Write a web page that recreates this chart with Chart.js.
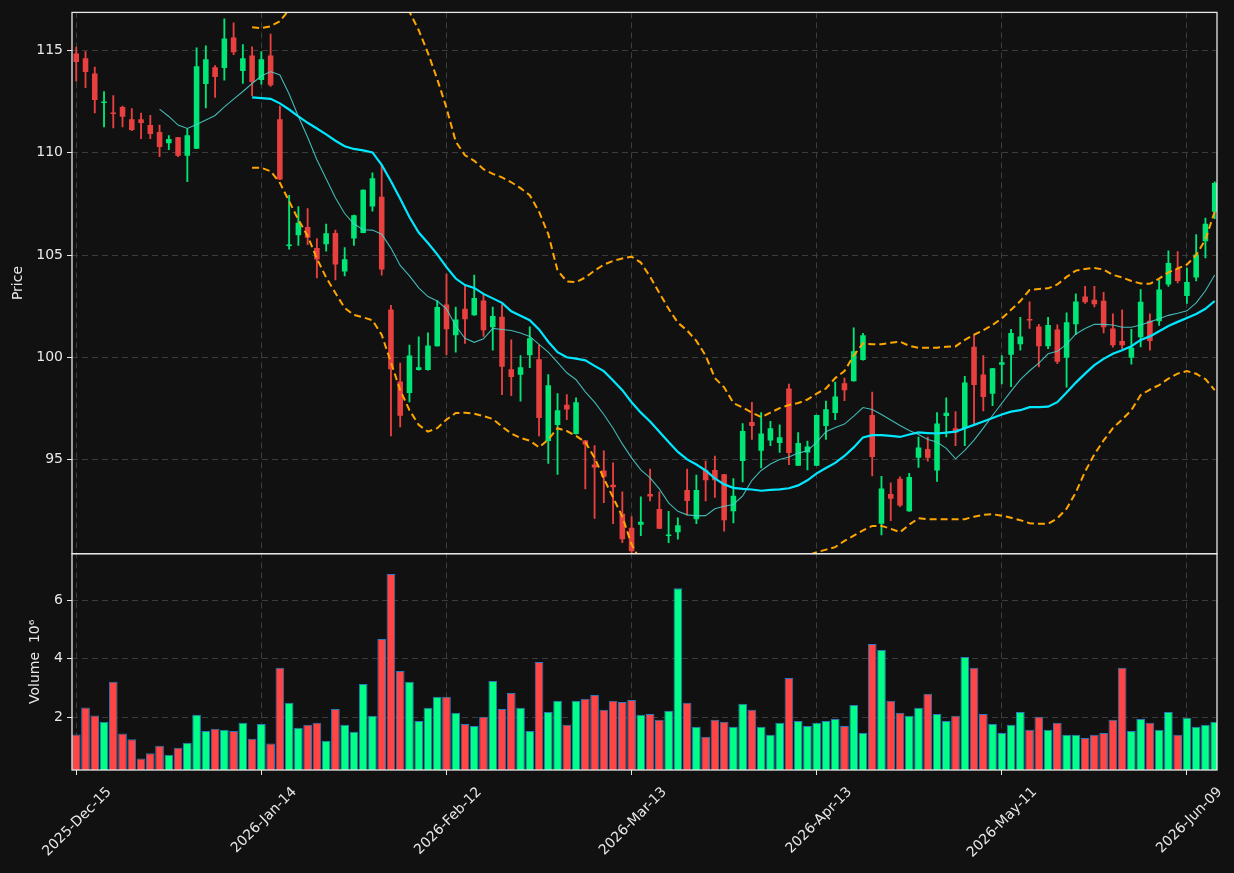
<!DOCTYPE html>
<html>
<head>
    <meta charset="utf-8">
    <title>Price and Volume</title>
    <script src="https://cdn.jsdelivr.net/npm/chart.js"></script>
    <style>
        html, body { margin: 0; padding: 0; background: #111111; }
        canvas { display: block; }
    </style>
</head>
<body>
    <canvas id="myChart" width="1234" height="873"></canvas>

    <script>
        // Tick labels on the x axis (trading-day index -> date)
        var tickIdx = [0, 20, 40, 60, 80, 100, 120];
        var tickLabels = ['2025-Dec-15', '2026-Jan-14', '2026-Feb-12', '2026-Mar-13', '2026-Apr-13', '2026-May-11', '2026-Jun-09'];
        var priceTicks = [95, 100, 105, 110, 115];
        var volumeTicks = [2, 4, 6];

        // OHLC, one entry per trading day
        var opens = [
            114.86, 114.63, 113.88, 112.44, 111.93, 112.24, 111.64, 111.64, 111.36, 111.02,
            110.47, 110.76, 109.86, 110.20, 113.37, 114.19, 114.15, 115.64, 114.00, 114.76,
            113.56, 114.76, 111.64, 105.44, 105.97, 106.37, 105.34, 105.53, 106.08, 104.20,
            105.81, 106.08, 107.37, 107.85, 102.34, 98.81, 98.25, 99.37, 99.37, 100.54,
            102.58, 101.08, 102.37, 102.05, 102.78, 101.47, 101.98, 99.41, 99.14, 100.10,
            99.90, 95.90, 96.69, 97.68, 96.24, 95.93, 94.75, 94.46, 93.76, 92.34,
            91.66, 91.81, 93.31, 92.58, 91.25, 91.44, 93.51, 92.07, 94.49, 94.49,
            94.27, 92.46, 94.92, 96.83, 95.42, 95.93, 95.81, 98.47, 94.69, 95.34,
            94.69, 96.64, 97.27, 98.73, 98.83, 99.86, 97.17, 91.86, 93.31, 94.05,
            92.46, 95.08, 95.51, 94.46, 97.12, 96.53, 96.53, 100.51, 99.15, 98.22,
            99.63, 100.12, 100.64, 101.85, 101.51, 100.54, 101.36, 99.97, 101.61, 102.97,
            102.81, 102.76, 101.41, 100.80, 99.97, 100.98, 101.78, 101.76, 103.56, 104.32,
            103.00, 103.90, 105.68, 107.12
        ];
        var highs = [
            115.17, 114.95, 114.19, 113.00, 112.80, 112.29, 112.17, 111.95, 111.83, 111.36,
            110.85, 110.76, 111.17, 115.14, 115.24, 114.27, 116.56, 116.36, 115.29, 115.19,
            114.95, 115.81, 112.29, 107.92, 107.37, 107.27, 105.81, 106.51, 106.22, 105.37,
            106.95, 108.19, 109.02, 109.41, 102.54, 99.71, 100.59, 101.00, 101.19, 102.76,
            104.07, 102.46, 103.47, 104.02, 103.10, 102.46, 102.58, 100.85, 100.08, 101.49,
            100.59, 99.15, 98.22, 98.17, 98.02, 95.93, 95.68, 95.42, 94.83, 93.42,
            92.20, 93.17, 94.53, 93.41, 92.46, 92.15, 94.53, 94.24, 94.92, 95.17,
            94.27, 94.07, 96.76, 97.80, 97.29, 96.86, 96.69, 98.69, 96.32, 95.90,
            97.17, 97.85, 98.78, 98.98, 101.44, 101.17, 98.29, 94.17, 93.86, 94.15,
            94.32, 96.10, 96.10, 97.29, 98.02, 97.34, 99.07, 101.10, 100.08, 99.46,
            100.08, 101.36, 101.95, 102.71, 101.61, 101.95, 101.58, 102.17, 103.10, 103.47,
            103.47, 103.17, 102.12, 102.32, 101.36, 103.31, 102.12, 103.78, 105.20, 105.17,
            104.36, 106.00, 106.81, 108.58
        ];
        var lows = [
            113.51, 113.19, 111.95, 111.27, 111.22, 111.27, 111.08, 110.69, 110.69, 109.81,
            110.15, 109.81, 108.59, 110.20, 112.20, 112.71, 113.56, 114.80, 113.39, 112.80,
            113.36, 113.25, 108.69, 105.29, 105.47, 105.51, 103.88, 105.19, 103.78, 103.98,
            105.47, 106.08, 107.14, 104.02, 96.15, 96.59, 97.81, 99.37, 99.37, 100.54,
            100.12, 100.25, 100.68, 102.05, 101.02, 100.34, 98.17, 98.12, 97.85, 99.49,
            96.15, 94.80, 94.27, 96.95, 96.24, 93.56, 92.12, 92.88, 91.86, 90.93,
            90.42, 91.27, 92.97, 91.61, 90.93, 91.10, 92.29, 91.86, 92.97, 93.14,
            91.49, 91.90, 93.90, 95.98, 94.58, 95.68, 95.34, 94.75, 94.69, 94.49,
            94.69, 95.98, 96.95, 97.88, 98.83, 99.86, 94.19, 91.31, 92.00, 92.69,
            92.46, 94.61, 94.92, 93.92, 96.10, 95.68, 95.68, 96.66, 97.37, 97.63,
            98.69, 98.56, 100.34, 101.41, 99.53, 100.42, 99.69, 98.54, 101.10, 102.63,
            102.46, 101.19, 100.49, 100.42, 99.66, 100.51, 100.34, 101.56, 103.47, 103.64,
            102.63, 103.73, 104.86, 106.78
        ];
        var closes = [
            114.44, 113.95, 112.59, 112.48, 111.90, 111.76, 111.12, 111.46, 110.92, 110.29,
            110.68, 109.86, 110.86, 114.24, 114.58, 113.71, 115.59, 114.92, 114.63, 113.47,
            114.58, 113.31, 108.69, 105.46, 106.58, 105.85, 104.78, 106.07, 104.54, 104.80,
            106.95, 108.19, 108.76, 104.29, 99.41, 97.14, 100.08, 99.51, 100.58, 102.46,
            101.37, 101.85, 101.86, 102.90, 101.32, 102.02, 99.53, 99.03, 99.51, 100.93,
            97.03, 98.63, 97.41, 97.44, 97.80, 95.73, 94.61, 94.15, 93.64, 91.10,
            90.51, 91.95, 93.19, 91.61, 91.29, 91.78, 92.97, 93.51, 93.98, 93.98,
            92.02, 93.22, 96.39, 96.64, 96.27, 96.53, 96.08, 95.31, 95.80, 95.63,
            97.17, 97.46, 98.08, 98.39, 100.29, 101.07, 95.12, 93.58, 93.08, 92.75,
            94.14, 95.59, 95.08, 96.76, 97.29, 96.32, 98.76, 98.64, 98.05, 99.46,
            99.75, 101.19, 101.02, 101.80, 100.54, 101.58, 99.78, 101.71, 102.73, 102.69,
            102.59, 101.47, 100.59, 100.59, 100.46, 102.71, 100.80, 103.31, 104.61, 103.73,
            103.68, 105.03, 106.53, 108.53
        ];

        // Volume in millions
        var volumes = [
            1.41, 2.33, 2.06, 1.84, 3.21, 1.44, 1.24, 0.58, 0.76, 1.02,
            0.71, 0.95, 1.12, 2.08, 1.53, 1.60, 1.57, 1.53, 1.81, 1.26,
            1.77, 1.10, 3.69, 2.49, 1.64, 1.74, 1.81, 1.19, 2.28, 1.74,
            1.50, 3.14, 2.05, 4.68, 6.90, 3.58, 3.21, 1.87, 2.32, 2.70,
            2.70, 2.15, 1.77, 1.70, 2.01, 3.24, 2.28, 2.83, 2.32, 1.53,
            3.89, 2.18, 2.56, 1.74, 2.56, 2.63, 2.76, 2.25, 2.56, 2.52,
            2.59, 2.08, 2.11, 1.91, 2.22, 6.42, 2.49, 1.67, 1.33, 1.91,
            1.84, 1.67, 2.46, 2.25, 1.67, 1.40, 1.81, 3.34, 1.87, 1.70,
            1.81, 1.87, 1.94, 1.70, 2.42, 1.46, 4.51, 4.30, 2.56, 2.15,
            2.05, 2.32, 2.80, 2.11, 1.87, 2.05, 4.06, 3.69, 2.11, 1.77,
            1.46, 1.74, 2.18, 1.57, 2.01, 1.57, 1.81, 1.40, 1.40, 1.29,
            1.40, 1.46, 1.91, 3.69, 1.53, 1.94, 1.81, 1.57, 2.18, 1.40,
            1.98, 1.67, 1.74, 1.84
        ];

        // Moving averages and Bollinger bands
        var ma10 = [
            null, null, null, null, null, null, null, null, null, 112.14,
            111.78, 111.36, 111.19, 111.39, 111.61, 111.83, 112.25, 112.63, 113.00, 113.39,
            113.76, 113.98, 113.81, 112.88, 111.78, 110.76, 109.66, 108.73, 107.80, 107.03,
            106.53, 106.24, 106.22, 106.02, 105.34, 104.49, 103.98, 103.39, 102.97, 102.75,
            102.37, 101.53, 100.93, 100.73, 100.90, 101.41, 101.36, 101.31, 101.19, 101.02,
            100.63, 100.25, 99.75, 99.24, 98.90, 98.31, 97.80, 97.20, 96.53, 95.76,
            95.08, 94.49, 94.10, 93.56, 92.88, 92.46, 92.29, 92.24, 92.25, 92.59,
            92.71, 92.80, 93.22, 93.98, 94.46, 94.78, 95.00, 95.12, 95.31, 95.42,
            95.85, 96.36, 96.56, 96.73, 97.12, 97.54, 97.44, 97.20, 96.93, 96.66,
            96.42, 96.22, 95.98, 95.85, 95.54, 95.03, 95.44, 95.95, 96.53, 97.15,
            97.75, 98.34, 98.90, 99.34, 99.71, 100.17, 100.29, 100.64, 101.14, 101.41,
            101.61, 101.61, 101.58, 101.47, 101.47, 101.58, 101.73, 101.88, 102.05, 102.15,
            102.27, 102.66, 103.25, 104.02
        ];
        var ma20 = [
            null, null, null, null, null, null, null, null, null, null,
            null, null, null, null, null, null, null, null, null, 112.71,
            112.68, 112.64, 112.42, 112.12, 111.78, 111.47, 111.19, 110.90, 110.59, 110.32,
            110.19, 110.12, 110.02, 109.41, 108.61, 107.75, 106.86, 106.10, 105.59, 105.03,
            104.41, 103.85, 103.53, 103.39, 103.10, 102.88, 102.66, 102.25, 102.03, 101.81,
            101.36, 100.76, 100.25, 100.00, 99.93, 99.85, 99.58, 99.32, 98.86, 98.39,
            97.80, 97.29, 96.86, 96.36, 95.85, 95.37, 95.00, 94.75, 94.46, 94.07,
            93.78, 93.61, 93.56, 93.53, 93.47, 93.51, 93.54, 93.59, 93.73, 93.98,
            94.32, 94.58, 94.83, 95.17, 95.59, 96.08, 96.19, 96.19, 96.15, 96.10,
            96.22, 96.32, 96.29, 96.27, 96.31, 96.36, 96.53, 96.69, 96.86, 97.03,
            97.20, 97.34, 97.41, 97.56, 97.56, 97.58, 97.80, 98.27, 98.76, 99.20,
            99.61, 99.92, 100.17, 100.34, 100.54, 100.85, 101.02, 101.27, 101.53, 101.73,
            101.92, 102.12, 102.37, 102.75
        ];
        var bbUpper = [
            null, null, null, null, null, null, null, null, null, null,
            null, null, null, null, null, null, null, null, null, 116.14,
            116.10, 116.19, 116.44, 117.00, 117.70, 118.30, 118.80, 119.20, 119.50, 119.70,
            119.80, 119.80, 119.70, 119.50, 119.10, 118.20, 116.90, 116.00, 114.88, 113.61,
            112.20, 110.55, 109.88, 109.61, 109.20, 108.97, 108.80, 108.56, 108.27, 107.93,
            107.12, 106.02, 104.24, 103.71, 103.68, 103.90, 104.24, 104.53, 104.71, 104.83,
            104.92, 104.63, 103.94, 103.14, 102.37, 101.69, 101.31, 100.80, 100.08, 98.98,
            98.53, 97.76, 97.54, 97.29, 97.07, 97.29, 97.51, 97.66, 97.76, 97.93,
            98.22, 98.47, 98.98, 99.32, 100.08, 100.68, 100.63, 100.64, 100.71, 100.76,
            100.56, 100.46, 100.46, 100.47, 100.51, 100.53, 100.85, 101.10, 101.32, 101.58,
            101.90, 102.32, 102.75, 103.29, 103.34, 103.37, 103.56, 103.93, 104.24, 104.32,
            104.37, 104.29, 104.03, 103.90, 103.73, 103.61, 103.59, 103.85, 104.15, 104.34,
            104.53, 105.00, 105.76, 107.12
        ];
        var bbLower = [
            null, null, null, null, null, null, null, null, null, null,
            null, null, null, null, null, null, null, null, null, 109.27,
            109.27, 109.10, 108.53, 107.63, 106.73, 105.93, 104.83, 103.90, 103.14, 102.41,
            102.07, 101.95, 101.81, 101.10, 99.75, 98.39, 97.41, 96.69, 96.36, 96.53,
            96.95, 97.27, 97.29, 97.24, 97.12, 96.98, 96.61, 96.27, 96.05, 95.92,
            95.59, 95.98, 96.53, 96.39, 96.15, 95.85, 95.08, 94.07, 93.14, 92.20,
            90.85, 90.00, 89.50, 89.00, 88.60, 88.30, 88.10, 88.00, 87.90, 87.90,
            88.00, 88.20, 88.50, 88.80, 89.10, 89.40, 89.70, 89.90, 90.10, 90.30,
            90.46, 90.59, 90.71, 91.02, 91.27, 91.53, 91.75, 91.75, 91.61, 91.44,
            91.81, 92.12, 92.07, 92.07, 92.07, 92.07, 92.08, 92.20, 92.29, 92.32,
            92.25, 92.15, 92.03, 91.88, 91.85, 91.85, 92.12, 92.59, 93.39, 94.41,
            95.25, 95.93, 96.53, 96.95, 97.41, 98.15, 98.42, 98.64, 98.95, 99.20,
            99.32, 99.19, 98.93, 98.39
        ];

        var idx = opens.map(function (_, i) { return i; });
        function isUp(i) { return closes[i] >= opens[i]; }

        var textColor = '#e8e8e8';
        var gridColor = '#3c3c3c';
        var frameColor = '#e8e8e8';
        var font = { family: 'DejaVu Sans', size: 14 };

        function lineData(arr) {
            return arr.map(function (v, i) { return { x: i, y: v }; });
        }

        // background and panel frames
        var panelPlugin = {
            id: 'panels',
            beforeDraw: function (chart) {
                var ctx = chart.ctx;
                ctx.save();
                ctx.fillStyle = '#111111';
                ctx.fillRect(0, 0, chart.width, chart.height);
                ctx.restore();
            },
            afterDatasetsDraw: function (chart) {
                var ctx = chart.ctx, x = chart.scales.x, y = chart.scales.y, yv = chart.scales.yv;
                ctx.save();
                ctx.strokeStyle = frameColor;
                ctx.lineWidth = 1.3;
                ctx.strokeRect(x.left, y.top, x.right - x.left, y.bottom - y.top);
                ctx.strokeRect(x.left, yv.top, x.right - x.left, yv.bottom - yv.top);
                ctx.restore();
            }
        };

        var ctx = document.getElementById('myChart').getContext('2d');
        var myChart = new Chart(ctx, {
            type: 'bar',
            data: {
                datasets: [
                    {
                        type: 'line', label: 'BB upper', data: lineData(bbUpper), yAxisID: 'y',
                        borderColor: '#ffa500', borderWidth: 2, borderDash: [7, 4],
                        pointRadius: 0, order: 0
                    },
                    {
                        type: 'line', label: 'BB lower', data: lineData(bbLower), yAxisID: 'y',
                        borderColor: '#ffa500', borderWidth: 2, borderDash: [7, 4],
                        pointRadius: 0, order: 0
                    },
                    {
                        type: 'line', label: 'MA10', data: lineData(ma10), yAxisID: 'y',
                        borderColor: 'rgba(72, 214, 210, 0.85)', borderWidth: 1.1,
                        pointRadius: 0, order: 1
                    },
                    {
                        type: 'line', label: 'MA20', data: lineData(ma20), yAxisID: 'y',
                        borderColor: '#00e8ff', borderWidth: 2.2,
                        pointRadius: 0, order: 1
                    },
                    {
                        label: 'Body', yAxisID: 'y', grouped: false, order: 2,
                        data: idx.map(function (i) { return { x: i, y: [opens[i], closes[i]] }; }),
                        backgroundColor: idx.map(function (i) { return isUp(i) ? '#00e676' : '#e8403f'; }),
                        barPercentage: 0.6, categoryPercentage: 1, minBarLength: 1.5
                    },
                    {
                        label: 'Wick', yAxisID: 'y', grouped: false, order: 3,
                        data: idx.map(function (i) { return { x: i, y: [lows[i], highs[i]] }; }),
                        backgroundColor: idx.map(function (i) { return isUp(i) ? '#00e676' : '#e8403f'; }),
                        barThickness: 1.2
                    },
                    {
                        label: 'Volume', yAxisID: 'yv', grouped: false, order: 3,
                        data: idx.map(function (i) { return { x: i, y: volumes[i] }; }),
                        backgroundColor: idx.map(function (i) { return isUp(i) ? '#00ff88' : '#ff4545'; }),
                        borderColor: '#2b7bba', borderWidth: 1,
                        barPercentage: 0.94, categoryPercentage: 1
                    }
                ]
            },
            options: {
                responsive: false,
                animation: false,
                layout: { padding: { top: 10, right: 17, left: 0, bottom: 0 } },
                plugins: { legend: { display: false }, tooltip: { enabled: false } },
                scales: {
                    x: {
                        type: 'linear', min: -0.46, max: 123.25, offset: false,
                        afterBuildTicks: function (s) { s.ticks = tickIdx.map(function (v) { return { value: v }; }); },
                        afterFit: function (s) { s.height = 103; s.paddingLeft = 0; s.paddingRight = 0; },
                        ticks: {
                            color: textColor, font: font, autoSkip: false,
                            minRotation: 45, maxRotation: 45, padding: 9, labelOffset: 33,
                            callback: function (v) { return tickLabels[tickIdx.indexOf(v)]; }
                        },
                        grid: { offset: false, color: gridColor, tickColor: frameColor, tickLength: 5 },
                        border: { display: false, dash: [6, 4] }
                    },
                    y: {
                        type: 'linear', position: 'left', stack: 'panels', stackWeight: 543, weight: 2,
                        min: 90.39, max: 116.87,
                        afterBuildTicks: function (s) { s.ticks = priceTicks.map(function (v) { return { value: v }; }); },
                        afterFit: function (s) { s.width = 72; },
                        ticks: { color: textColor, font: font, padding: 4 },
                        grid: { color: gridColor, tickColor: frameColor, tickLength: 5 },
                        border: { display: false, dash: [6, 4] },
                        title: { display: true, text: 'Price', color: textColor, font: font, padding: { top: 10, bottom: 0 } }
                    },
                    yv: {
                        type: 'linear', position: 'left', stack: 'panels', stackWeight: 217, weight: 1,
                        min: 0.19, max: 7.6,
                        afterBuildTicks: function (s) { s.ticks = volumeTicks.map(function (v) { return { value: v }; }); },
                        afterFit: function (s) { s.width = 72; },
                        ticks: { color: textColor, font: font, padding: 4 },
                        grid: { color: gridColor, tickColor: frameColor, tickLength: 5 },
                        border: { display: false, dash: [6, 4] },
                        title: { display: true, text: 'Volume  10\u2076', color: textColor, font: font, padding: { top: 27, bottom: 0 } }
                    }
                }
            },
            plugins: [panelPlugin]
        });
    </script>
</body>
</html>
